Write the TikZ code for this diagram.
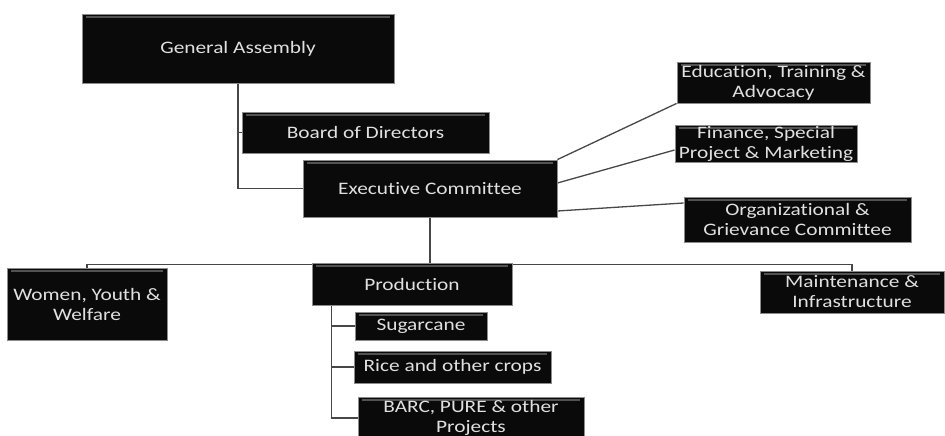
\documentclass[tikz,border=0pt]{standalone}
\usepackage{fontspec}
\setmainfont{Carlito}[FakeStretch=1.22,Ligatures=NoCommon]
\usetikzlibrary{backgrounds}
\begin{document}
\begin{tikzpicture}[x=1pt,y=-1pt,
  box/.style={fill=black!96, draw=black!45, line width=0.9pt, inner sep=0pt,
    text=black!12, align=center, font=\fontsize{17.5}{20}\selectfont,
    path picture={\draw[black!68, line width=1.2pt]
      ([xshift=4pt,yshift=-3pt]path picture bounding box.north west) --
      ([xshift=-4pt,yshift=-3pt]path picture bounding box.north east);}},
  link/.style={draw=black!72, line width=1.3pt}]
\useasboundingbox (0,0) rectangle (945,436);
\clip (0,0) rectangle (945,436);

\node[box, minimum width=312pt, minimum height=69pt] (GA) at (238,48.5) {General Assembly};
\node[box, minimum width=247pt, minimum height=41pt] (BoD) at (365.5,132.5) {Board of Directors};
\node[box, minimum width=254pt, minimum height=57pt] (EC) at (430,188.5) {Executive Committee};
\node[box, minimum width=193pt, minimum height=41pt] (Edu) at (773.5,82.5) {Education, Training \&\\Advocacy};
\node[box, minimum width=182pt, minimum height=37pt] (Fin) at (766,143.5) {Finance, Special\\Project \& Marketing};
\node[box, minimum width=227pt, minimum height=45pt] (Org) at (797.5,219.5) {Organizational \&\\Grievance Committee};
\node[box, minimum width=200pt, minimum height=42pt] (Prod) at (412,284) {Production};
\node[box, minimum width=160pt, minimum height=72pt] (Wom) at (87,304) {Women, Youth \&\\Welfare};
\node[box, minimum width=184pt, minimum height=42pt] (Maint) at (852,292) {Maintenance \&\\Infrastructure};
\node[box, minimum width=132pt, minimum height=28pt] (Sug) at (421,326) {Sugarcane};
\node[box, minimum width=197pt, minimum height=32pt] (Rice) at (452.5,367) {Rice and other crops};
\node[box, minimum width=226pt, minimum height=42pt] (BARC) at (471,418) {BARC, PURE \& other\\Projects};

\begin{scope}[on background layer]
  \coordinate (busy) at (0,264.5);
  \draw[link] (GA.south) |- (EC.west);
  \draw[link] (GA.south |- BoD.west) -- (BoD.west);
  \draw[link] (EC.north east) -- (Edu.south west);
  \draw[link] ([yshift=5.5pt]EC.east) -- ([yshift=-6.5pt]Fin.west);
  \draw[link] ([yshift=-22.5pt]EC.east) -- ([yshift=16.5pt]Org.west);
  \draw[link] (EC.south) -- (EC.south |- busy);
  \draw[link] (Wom.north) |- (busy -| Maint.north) -- (Maint.north);
  \coordinate (ps) at ([xshift=20pt]Prod.south west);
  \draw[link] (ps) |- (BARC.west);
  \draw[link] (ps |- Sug.west) -- (Sug.west);
  \draw[link] (ps |- Rice.west) -- (Rice.west);
\end{scope}
\end{tikzpicture}
\end{document}
